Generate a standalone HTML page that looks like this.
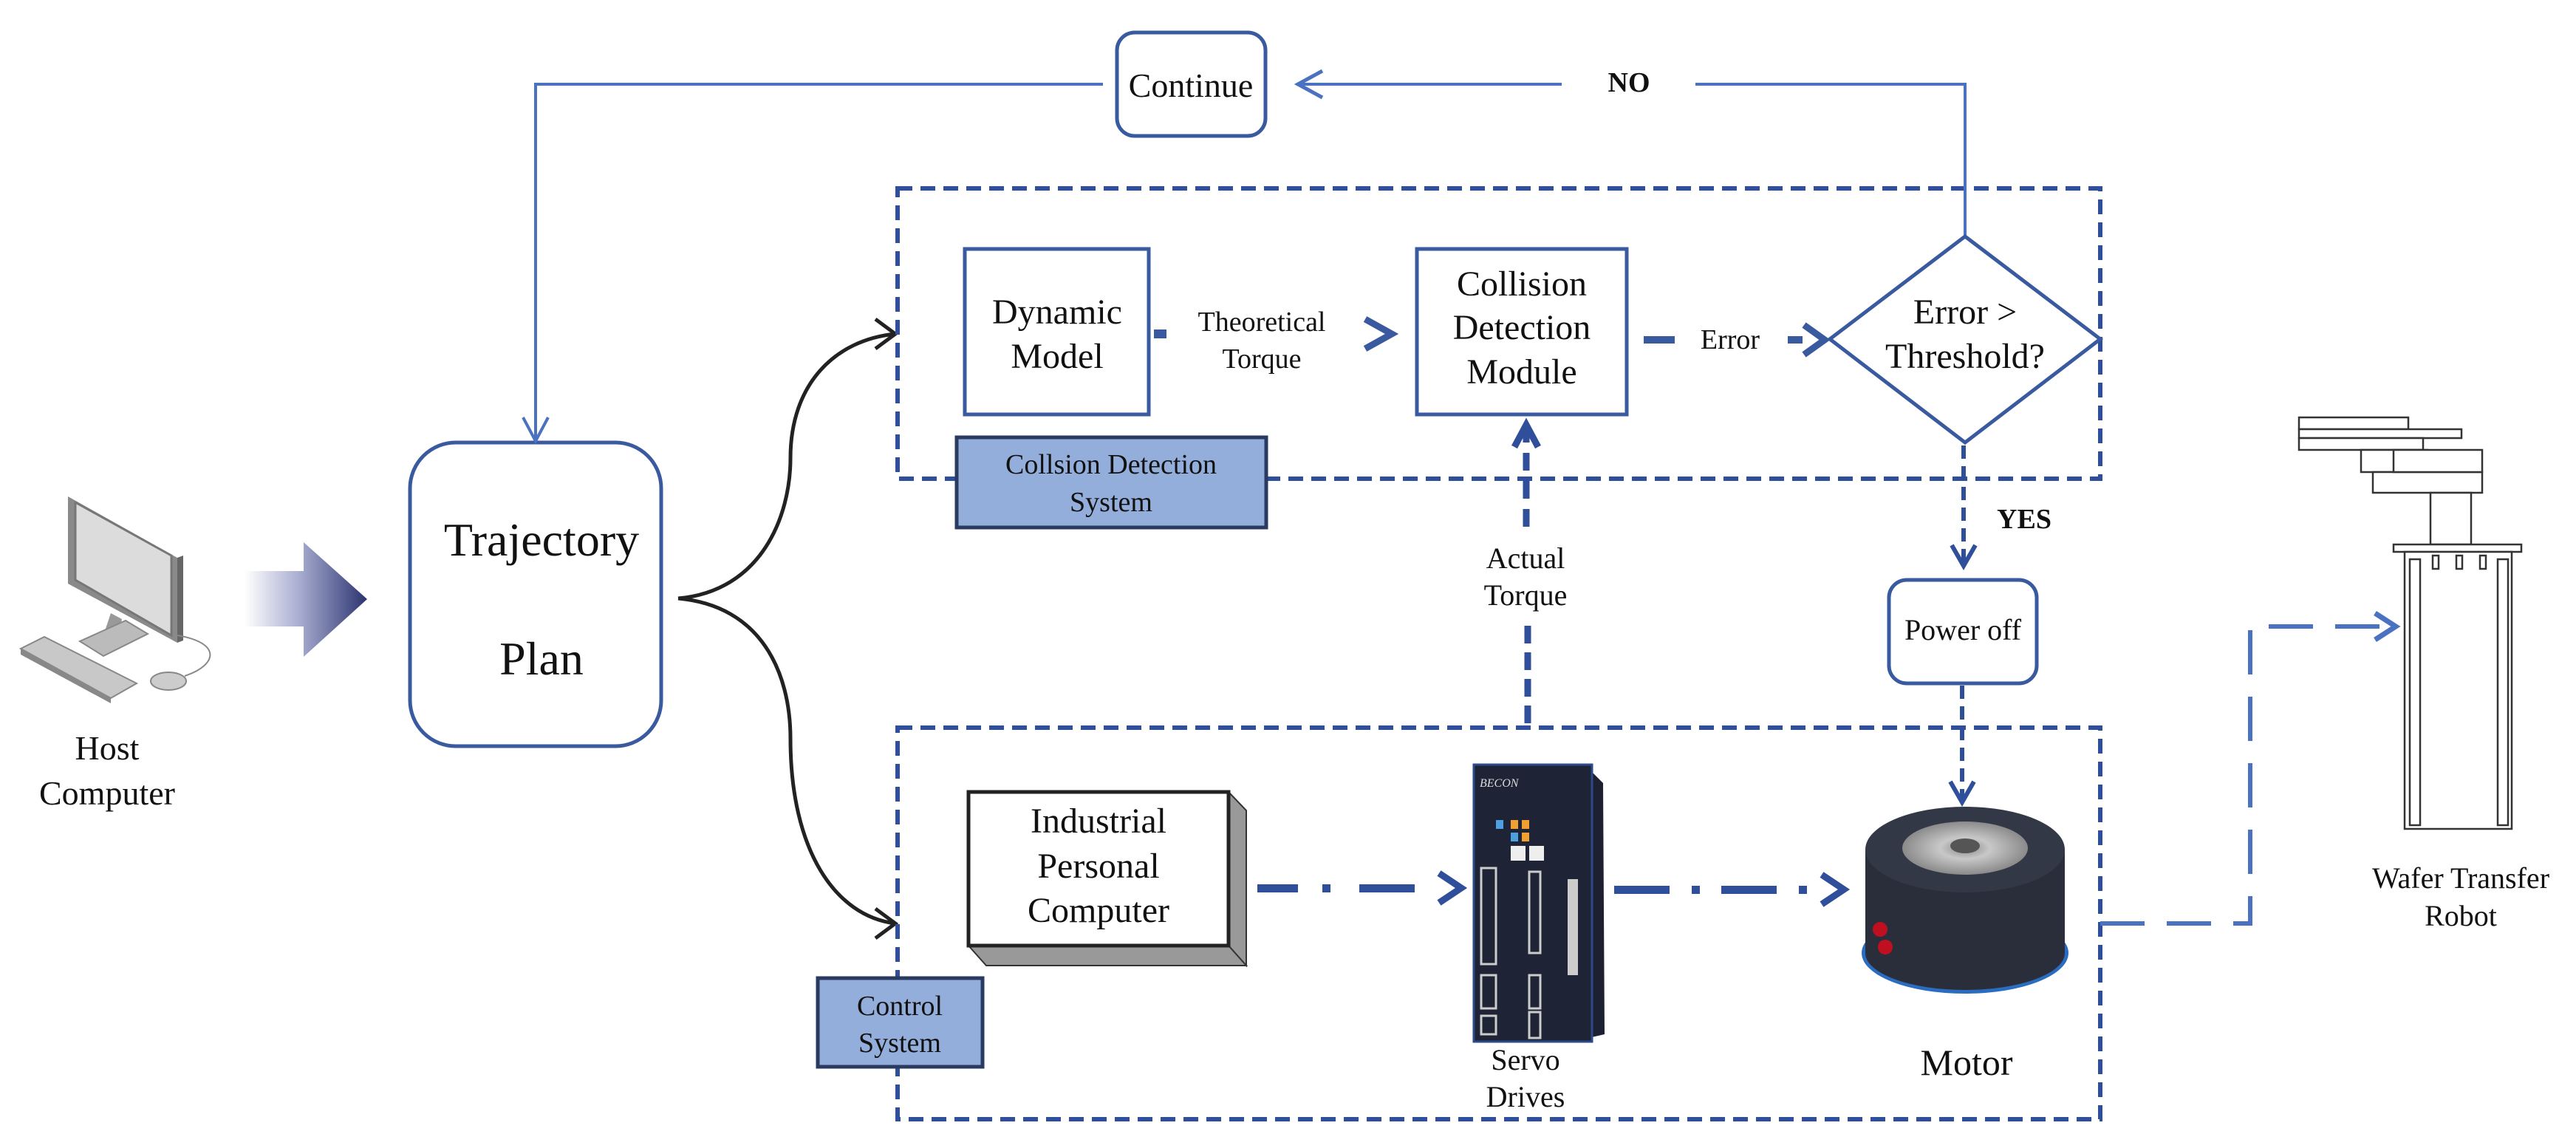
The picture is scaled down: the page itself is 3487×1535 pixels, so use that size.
<!DOCTYPE html>
<html><head><meta charset="utf-8"><style>
html,body{margin:0;padding:0;background:#fff}
svg{display:block}
text{font-family:"Liberation Serif",serif;fill:#111}
</style></head><body>
<svg width="3487" height="1535" viewBox="0 0 3487 1535" xmlns="http://www.w3.org/2000/svg">
<defs>
<linearGradient id="ga" x1="0" x2="1" y1="0" y2="0">
<stop offset="0" stop-color="#fff"/><stop offset="0.45" stop-color="#a8acd0"/><stop offset="1" stop-color="#2c3470"/>
</linearGradient>
<radialGradient id="mtop" cx="0.5" cy="0.5" r="0.5"><stop offset="0" stop-color="#888"/><stop offset="0.4" stop-color="#c8c8c8"/><stop offset="1" stop-color="#8a8a8a"/></radialGradient>
</defs>

<!-- Host computer -->
<g>
<polygon points="92,672 240,755 240,870 92,790" fill="#8a8a8a"/>
<polygon points="102,680 232,752 232,860 102,785" fill="#dcdcdc" stroke="#777" stroke-width="3"/>
<polygon points="240,755 248,752 248,867 240,870" fill="#666"/>
<polygon points="140,860 150,830 165,838 160,870" fill="#999"/>
<polygon points="108,868 170,840 200,858 140,888" fill="#bbb" stroke="#888" stroke-width="2"/>
<polygon points="28,878 60,862 185,925 150,945" fill="#c8c8c8" stroke="#888" stroke-width="2"/>
<polygon points="28,878 150,945 150,952 28,886" fill="#888"/>
<path d="M240,860 C300,870 295,900 250,915" fill="none" stroke="#888" stroke-width="2"/>
<ellipse cx="228" cy="922" rx="24" ry="12" fill="#ccc" stroke="#888" stroke-width="2"/>
</g>
<text x="145" y="1028" font-size="46" text-anchor="middle">Host</text>
<text x="145" y="1089" font-size="46" text-anchor="middle">Computer</text>

<!-- big arrow -->
<polygon points="331,773 411,773 411,734 497,811 411,889 411,848 331,848" fill="url(#ga)"/>

<!-- Trajectory -->
<rect x="555" y="599" width="340" height="411" rx="62" fill="#fff" stroke="#3a5aa0" stroke-width="5"/>
<text x="733" y="752" font-size="64" text-anchor="middle">Trajectory</text>
<text x="733" y="913" font-size="64" text-anchor="middle">Plan</text>

<!-- curves -->
<g fill="none" stroke="#222" stroke-width="5">
<path d="M918,810 C1030,800 1070,700 1070,620 C1070,520 1130,460 1212,452"/>
<path d="M1185,432 L1212,452 L1185,472"/>
<path d="M918,810 C1030,820 1070,910 1070,1000 C1070,1150 1130,1240 1212,1250"/>
<path d="M1185,1230 L1212,1250 L1185,1270"/>
</g>

<!-- dashed boxes -->
<g fill="none" stroke="#2f4f9a" stroke-width="6" stroke-dasharray="20 11">
<rect x="1215" y="255" width="1628" height="393"/>
<rect x="1215" y="985" width="1628" height="530"/>
</g>

<!-- top loop -->
<g fill="none" stroke="#4a72c0" stroke-width="4">
<polyline points="1493,114 725,114 725,597"/>
<polyline points="708,565 725,597 742,565"/>
<polyline points="2660,320 2660,114 2295,114"/>
<polyline points="2114,114 1757,114"/>
<polyline points="1790,96 1757,114 1790,132" stroke-width="5"/>
</g>
<rect x="1512" y="44" width="201" height="140" rx="24" fill="#fff" stroke="#3a5aa0" stroke-width="5"/>
<text x="1612" y="131" font-size="46" text-anchor="middle">Continue</text>
<text x="2205" y="124" font-size="38" font-weight="bold" text-anchor="middle">NO</text>

<!-- Dynamic model -->
<rect x="1306" y="337" width="249" height="224" fill="#fff" stroke="#3a5aa0" stroke-width="5"/>
<text x="1431" y="438" font-size="48" text-anchor="middle">Dynamic</text>
<text x="1431" y="498" font-size="48" text-anchor="middle">Model</text>
<rect x="1562" y="446" width="17" height="12" fill="#3a5aa0"/>
<text x="1708" y="448" font-size="38" text-anchor="middle">Theoretical</text>
<text x="1708" y="498" font-size="38" text-anchor="middle">Torque</text>
<polyline points="1848,432 1884,452 1848,472" fill="none" stroke="#3a5aa0" stroke-width="9"/>

<!-- CDM -->
<rect x="1918" y="337" width="284" height="224" fill="#fff" stroke="#3a5aa0" stroke-width="5"/>
<text x="2060" y="400" font-size="48" text-anchor="middle">Collision</text>
<text x="2060" y="459" font-size="48" text-anchor="middle">Detection</text>
<text x="2060" y="519" font-size="48" text-anchor="middle">Module</text>
<rect x="2225" y="455" width="42" height="10" fill="#3a5aa0"/>
<text x="2342" y="472" font-size="38" text-anchor="middle">Error</text>
<rect x="2420" y="455" width="20" height="10" fill="#3a5aa0"/>
<polyline points="2442,440 2470,460 2442,480" fill="none" stroke="#3a5aa0" stroke-width="9"/>

<!-- diamond -->
<polygon points="2477,459 2660,320 2843,459 2660,599" fill="#fff" stroke="#3a5aa0" stroke-width="5"/>
<text x="2660" y="438" font-size="48" text-anchor="middle">Error &gt;</text>
<text x="2660" y="498" font-size="48" text-anchor="middle">Threshold?</text>

<!-- CDS label -->
<rect x="1295" y="592" width="419" height="122" fill="#94aedb" stroke="#2a3a60" stroke-width="5"/>
<text x="1504" y="641" font-size="38" text-anchor="middle">Collsion Detection</text>
<text x="1504" y="692" font-size="38" text-anchor="middle">System</text>

<!-- actual torque -->
<g stroke="#2f4f9a" stroke-width="9" fill="none">
<line x1="2066" y1="713" x2="2066" y2="580" stroke-dasharray="24 14"/>
<polyline points="2050,605 2066,575 2082,605"/>
<line x1="2068" y1="847" x2="2068" y2="984" stroke-dasharray="24 12"/>
</g>
<text x="2065" y="769" font-size="40" text-anchor="middle">Actual</text>
<text x="2065" y="819" font-size="40" text-anchor="middle">Torque</text>

<!-- YES -->
<g stroke="#2f4f9a" stroke-width="6" fill="none">
<line x1="2658" y1="603" x2="2658" y2="760" stroke-dasharray="18 10"/>
<polyline points="2642,738 2658,766 2674,738"/>
<line x1="2656" y1="928" x2="2656" y2="1080" stroke-dasharray="18 10"/>
<polyline points="2640,1058 2656,1086 2672,1058"/>
</g>
<text x="2740" y="715" font-size="38" font-weight="bold" text-anchor="middle">YES</text>
<rect x="2557" y="785" width="200" height="140" rx="24" fill="#fff" stroke="#3a5aa0" stroke-width="5"/>
<text x="2657" y="866" font-size="40" text-anchor="middle">Power off</text>

<!-- Control System label -->
<rect x="1107" y="1324" width="223" height="120" fill="#94aedb" stroke="#2a3a60" stroke-width="5"/>
<text x="1218" y="1374" font-size="38" text-anchor="middle">Control</text>
<text x="1218" y="1424" font-size="38" text-anchor="middle">System</text>

<!-- IPC -->
<polygon points="1663,1072 1687,1097 1687,1307 1663,1280" fill="#999" stroke="#333" stroke-width="2"/>
<polygon points="1311,1280 1663,1280 1687,1307 1335,1307" fill="#999" stroke="#333" stroke-width="2"/>
<rect x="1311" y="1072" width="352" height="208" fill="#fff" stroke="#222" stroke-width="5"/>
<text x="1487" y="1127" font-size="48" text-anchor="middle">Industrial</text>
<text x="1487" y="1188" font-size="48" text-anchor="middle">Personal</text>
<text x="1487" y="1248" font-size="48" text-anchor="middle">Computer</text>

<!-- dash-dot arrows -->
<g fill="#2f4f9a">
<rect x="1702" y="1197" width="55" height="11"/><rect x="1790" y="1197" width="11" height="11"/><rect x="1840" y="1197" width="75" height="11"/>
<rect x="2185" y="1199" width="75" height="11"/><rect x="2290" y="1199" width="11" height="11"/><rect x="2330" y="1199" width="75" height="11"/><rect x="2435" y="1199" width="11" height="11"/>
</g>
<g fill="none" stroke="#2f4f9a" stroke-width="9">
<polyline points="1948,1182 1978,1202 1948,1222"/>
<polyline points="2466,1184 2496,1204 2466,1224"/>
</g>

<!-- Servo drive -->
<g>
<polygon points="2150,1040 2170,1060 2172,1400 2150,1405" fill="#1c2030"/>
<rect x="1995" y="1035" width="160" height="375" fill="#1e2436" stroke="#2a4a8a" stroke-width="3"/>
<text x="2003" y="1065" font-size="16" fill="#ddd" style="fill:#ddd" font-style="italic">BECON</text>
<rect x="2025" y="1110" width="10" height="12" fill="#4aa0e0"/><rect x="2045" y="1110" width="10" height="12" fill="#f0a030"/><rect x="2060" y="1110" width="10" height="12" fill="#f0a030"/>
<rect x="2045" y="1127" width="10" height="12" fill="#4aa0e0"/><rect x="2060" y="1127" width="10" height="12" fill="#f0a030"/>
<rect x="2045" y="1145" width="20" height="20" fill="#eee"/><rect x="2070" y="1145" width="20" height="20" fill="#eee"/>
<rect x="2005" y="1175" width="20" height="130" fill="none" stroke="#ccc" stroke-width="3"/>
<rect x="2070" y="1180" width="15" height="110" fill="none" stroke="#ccc" stroke-width="3"/>
<rect x="2005" y="1320" width="20" height="45" fill="none" stroke="#ccc" stroke-width="3"/>
<rect x="2070" y="1320" width="15" height="45" fill="none" stroke="#ccc" stroke-width="3"/>
<rect x="2005" y="1375" width="20" height="25" fill="none" stroke="#ccc" stroke-width="3"/>
<rect x="2070" y="1370" width="15" height="35" fill="none" stroke="#ccc" stroke-width="3"/>
<rect x="2122" y="1190" width="14" height="130" fill="#ccc"/>
</g>
<text x="2065" y="1448" font-size="40" text-anchor="middle">Servo</text>
<text x="2065" y="1498" font-size="40" text-anchor="middle">Drives</text>

<!-- Motor -->
<g>
<ellipse cx="2660" cy="1290" rx="140" ry="55" fill="#2a6cc0"/>
<path d="M2525,1150 L2525,1290 A135,50 0 0 0 2795,1290 L2795,1150 Z" fill="#2a2e3a"/>
<ellipse cx="2660" cy="1150" rx="135" ry="58" fill="#333846"/>
<ellipse cx="2660" cy="1148" rx="85" ry="36" fill="url(#mtop)"/>
<ellipse cx="2660" cy="1145" rx="20" ry="10" fill="#555"/>
<circle cx="2545" cy="1258" r="10" fill="#c01020"/><circle cx="2552" cy="1282" r="10" fill="#c01020"/>
</g>
<text x="2662" y="1455" font-size="50" text-anchor="middle">Motor</text>

<!-- output dashed arrow -->
<g fill="none" stroke="#4a72c0" stroke-width="6">
<polyline points="2843,1250 3046,1250 3046,848 3240,848" stroke-dasharray="60 30"/>
<polyline points="3215,830 3243,848 3215,866" stroke-width="7"/>
</g>

<!-- Robot -->
<g fill="#fff" stroke="#333" stroke-width="2.5">
<rect x="3112" y="565" width="148" height="16"/>
<rect x="3112" y="581" width="220" height="12"/>
<rect x="3112" y="593" width="168" height="16"/>
<rect x="3196" y="609" width="90" height="30"/>
<rect x="3212" y="639" width="148" height="28"/>
<rect x="3240" y="609" width="120" height="30"/>
<rect x="3290" y="667" width="55" height="70"/>
<rect x="3240" y="737" width="173" height="10"/>
<rect x="3255" y="747" width="145" height="375"/>
<rect x="3262" y="757" width="14" height="360"/>
<rect x="3381" y="757" width="14" height="360"/>
<rect x="3293" y="752" width="8" height="18"/><rect x="3325" y="752" width="8" height="18"/><rect x="3357" y="752" width="8" height="18"/>
</g>
<text x="3331" y="1202" font-size="40" text-anchor="middle">Wafer Transfer</text>
<text x="3331" y="1253" font-size="40" text-anchor="middle">Robot</text>
</svg>
</body></html>
